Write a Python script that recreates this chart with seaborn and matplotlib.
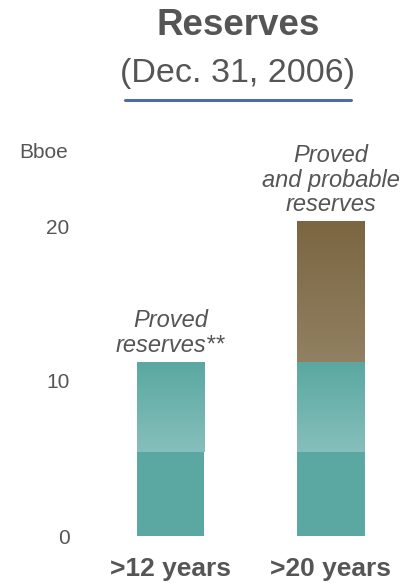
import matplotlib
matplotlib.use("Agg")
import matplotlib.pyplot as plt
import seaborn as sns
import numpy as np
import pandas as pd
from matplotlib.colors import LinearSegmentedColormap

# Datos (Bboe)
categorias = [">12 years", ">20 years"]
probadas_base = [5.4, 5.4]
probadas_sup = [5.8, 5.75]
probables = [0.0, 9.1]
etiquetas_barras = ["Proved\nreserves**", "Proved\nand probable\nreserves"]
ticks_y = [0, 10, 20]

sns.set_theme(style="white")
plt.rcParams['font.family'] = ['Liberation Sans', 'DejaVu Sans']

gris = '#555555'
teal = '#5aa8a1'
teal_claro = '#86bfbb'
marron_osc = '#7b6641'
marron_cla = '#918062'

df = pd.DataFrame({'horizonte': categorias,
                   'base': probadas_base,
                   'probadas': np.add(probadas_base, probadas_sup),
                   'total': np.add(np.add(probadas_base, probadas_sup), probables)})

fig = plt.figure(figsize=(4.03, 5.83), dpi=100)
px_unidad = 15.5
ax = fig.add_axes([100 / 403, 47 / 583, 300 / 403, (536 - 130) / 583])

def barras_gradiente(col, inferior, c_arriba, c_abajo, z):
    n0 = len(ax.patches)
    sns.barplot(data=df, x='horizonte', y=col, color=c_arriba, width=0.42,
                saturation=1, ax=ax, zorder=z)
    cmap = LinearSegmentedColormap.from_list('g', [c_arriba, c_abajo])
    grad = np.linspace(0, 1, 256).reshape(-1, 1)
    for p, y0 in zip(ax.patches[n0:], inferior):
        p.set_linewidth(0)
        y1 = p.get_height()
        if y1 - y0 <= 0:
            continue
        x0 = p.get_x()
        ax.imshow(grad, extent=[x0, x0 + p.get_width(), y0, y1], aspect='auto',
                  cmap=cmap, zorder=z + 0.5, interpolation='bilinear')

barras_gradiente('total', df['probadas'], marron_osc, marron_cla, 1)
barras_gradiente('probadas', df['base'], teal, teal_claro, 2)

n0 = len(ax.patches)
sns.barplot(data=df, x='horizonte', y='base', color=teal, width=0.42,
            saturation=1, ax=ax, zorder=4)
for p in ax.patches[n0:]:
    p.set_linewidth(0)

ax.set_xlim(-70.5 / 160.5, 1 + 69 / 160.5)
ax.set_ylim(0, (536 - 130) / px_unidad)
ax.set_yticks(ticks_y)
ax.set_yticklabels([str(t) for t in ticks_y], fontsize=15, color=gris)
ax.tick_params(axis='y', length=0, pad=22)
ax.tick_params(axis='x', length=0, pad=15)
for lbl in ax.get_xticklabels():
    lbl.set_fontsize(19)
    lbl.set_fontweight('bold')
    lbl.set_color(gris)
ax.set_xlabel('')
ax.set_ylabel('')
sns.despine(ax=ax, left=True, bottom=True)

# Etiquetas sobre las barras
for i, txt in enumerate(etiquetas_barras):
    ax.text(i, df['total'][i] + 0.38, txt, ha='center', va='bottom', fontsize=17,
            style='italic', color=gris, linespacing=1.08)

fig.text(44 / 403, 1 - 152 / 583, 'Bboe', ha='center', va='center', fontsize=15, color=gris)
fig.text(238 / 403, 1 - 35 / 583, 'Reserves', ha='center', va='baseline', fontsize=26.5,
         fontweight='bold', color=gris)
fig.text(238 / 403, 1 - 82 / 583, '(Dec. 31, 2006)', ha='center', va='baseline', fontsize=24.5,
         color=gris)
fig.add_artist(plt.Line2D([125 / 403, 351 / 403], [1 - 100 / 583] * 2, color='#4f6d9a',
                          linewidth=2.2))

fig.savefig('out.png', dpi=100)
